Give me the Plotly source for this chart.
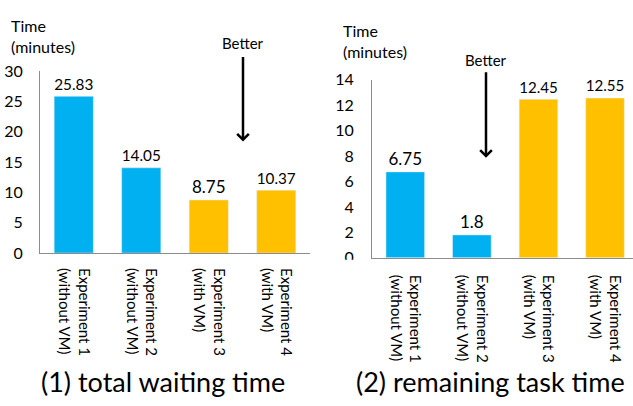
import plotly.graph_objects as go

# Category labels shared by both panels
categories = [
    "Experiment 1<br>(without VM)",
    "Experiment 2<br>(without VM)",
    "Experiment 3<br>(with VM)",
    "Experiment 4<br>(with VM)",
]
waiting_time = [25.83, 14.05, 8.75, 10.37]
remaining_time = [6.75, 1.8, 12.45, 12.55]
bar_colors = ["#00B0F0", "#00B0F0", "#FFC000", "#FFC000"]

W, H = 633, 406
FONT = "Lato, Arial, sans-serif"
TXT = "#000000"
AXIS = "#8c8c8c"

fig = go.Figure()

fig.add_trace(go.Bar(
    x=categories, y=waiting_time, marker_color=bar_colors,
    texttemplate="%{y}", textposition="outside", cliponaxis=False,
    textfont=dict(size=17, color=TXT, family=FONT),
    xaxis="x", yaxis="y", showlegend=False,
))
fig.add_trace(go.Bar(
    x=categories, y=remaining_time, marker_color=bar_colors,
    texttemplate="%{y}", textposition="outside", cliponaxis=False,
    textfont=dict(size=17, color=TXT, family=FONT),
    xaxis="x2", yaxis="y2", showlegend=False,
))

xcommon = dict(
    type="category", showline=True, linecolor=AXIS, linewidth=1,
    ticks="", tickangle=90, showgrid=False, zeroline=False,
    tickfont=dict(size=15, color=TXT, family=FONT),
)
ycommon = dict(
    showline=True, linecolor=AXIS, linewidth=1, ticks="",
    showgrid=False, zeroline=False,
    tickfont=dict(size=16, color=TXT, family=FONT),
)

fig.update_layout(
    width=W, height=H,
    margin=dict(l=0, r=0, t=0, b=0),
    paper_bgcolor="white", plot_bgcolor="white",
    bargap=0.42,
    font=dict(family=FONT, color=TXT),
    xaxis=dict(domain=[40 / W, 310 / W], anchor="y", range=[-0.5, 3.5],
               ticklabelstandoff=11, **xcommon),
    yaxis=dict(domain=[1 - 255 / H, 1 - 64 / H], anchor="x", range=[0, 30], dtick=5,
               ticklabelstandoff=13, **ycommon),
    xaxis2=dict(domain=[372 / W, 1.0], anchor="y2", range=[-0.5, 3.42],
                ticklabelstandoff=13, **xcommon),
    yaxis2=dict(domain=[1 - 260 / H, 1 - 73 / H], anchor="x2", range=[0, 14], dtick=2,
                ticklabelstandoff=14, **ycommon),
    # the lower half of the right panel's "0" label is hidden
    shapes=[dict(type="rect", xref="paper", yref="paper", layer="above",
                 x0=332 / W, x1=368 / W, y0=1 - 272 / H, y1=1 - 262 / H,
                 fillcolor="white", line=dict(width=0))],
)

annotations = [
    # axis captions
    dict(text="Time<br>(minutes)", x=9 / W, y=1 - 4 / H, xanchor="left", yanchor="top",
         align="left", font=dict(size=16)),
    dict(text="Time<br>(minutes)", x=341 / W, y=1 - 9 / H, xanchor="left", yanchor="top",
         align="left", font=dict(size=16)),
    # panel captions
    dict(text="(1) total waiting time", x=163 / W, y=1 - 390 / H, xanchor="center",
         yanchor="middle", font=dict(size=27)),
    dict(text="(2) remaining task time", x=490 / W, y=1 - 390 / H, xanchor="center",
         yanchor="middle", font=dict(size=27)),
    # "Better" markers
    dict(text="Better", x=243 / W, y=1 - 35 / H, xanchor="center", yanchor="middle",
         font=dict(size=15)),
    dict(text="Better", x=486 / W, y=1 - 52 / H, xanchor="center", yanchor="middle",
         font=dict(size=15)),
    dict(text="", x=243 / W, y=1 - 138 / H, ax=0, ay=-86, showarrow=True,
         arrowhead=4, arrowsize=0.9, arrowwidth=2.5, arrowcolor="black"),
    dict(text="", x=486 / W, y=1 - 155 / H, ax=0, ay=-87, showarrow=True,
         arrowhead=4, arrowsize=0.9, arrowwidth=2.5, arrowcolor="black"),
]
for a in annotations:
    a.setdefault("showarrow", False)
    a["xref"] = "paper"
    a["yref"] = "paper"
fig.update_layout(annotations=annotations)

fig.write_html("out.html")
